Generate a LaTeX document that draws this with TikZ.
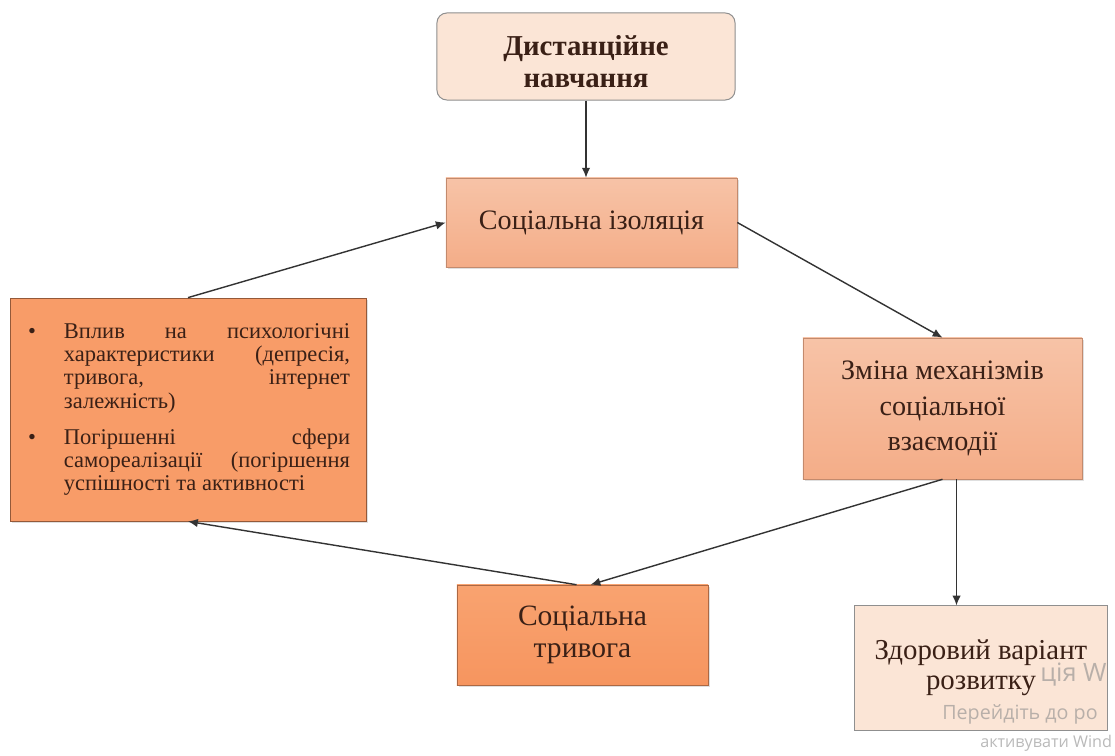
\documentclass[tikz,border=0pt]{standalone}
\usepackage{fontspec}
\setmainfont{Liberation Serif}
\newfontfamily\wmfont{Open Sans}
\usetikzlibrary{arrows.meta,positioning,calc,shadows}

\definecolor{peachFill}{HTML}{FBE5D6}
\definecolor{boxGray}{HTML}{8F8F8F}
\definecolor{salmonTop}{HTML}{F7C3A7}
\definecolor{salmonBot}{HTML}{F4AD88}
\definecolor{orangeTop}{HTML}{F9A370}
\definecolor{orangeBot}{HTML}{F6955F}
\definecolor{orangeFill}{HTML}{F89C68}
\definecolor{textBrown}{HTML}{3A2016}
\definecolor{arrowGray}{HTML}{333333}

\begin{document}
\begin{tikzpicture}[x=0.025cm, y=-0.025cm,
    every node/.style={align=center, text=textBrown, inner sep=0pt},
    bigText/.style={font=\fontsize{20}{24}\selectfont},
    lightBox/.style={draw=boxGray, fill=peachFill, line width=0.7pt},
    salmonBox/.style={draw=salmonBot!80!black, line width=0.4pt, top color=salmonTop, bottom color=salmonBot,
        drop shadow={opacity=0.25, shadow xshift=1.5pt, shadow yshift=-1.5pt}},
    orangeBox/.style={draw=orangeBot!70!black, line width=0.4pt, top color=orangeTop, bottom color=orangeBot,
        drop shadow={opacity=0.25, shadow xshift=1.5pt, shadow yshift=-1.5pt}},
    flowArrow/.style={draw=arrowGray, line width=1pt, -{Latex[length=7pt, width=6pt]}},
    wmText/.style={font=\wmfont, text=black!45, text opacity=0.6, anchor=west}
  ]
  \path[use as bounding box, fill=white] (0,0) rectangle (1115,755);

  % boxes of the cycle
  \node[lightBox, rounded corners=7pt, minimum width=7.45cm, minimum height=2.175cm] (dist) at (586,56.5) {};
  \node[font=\bfseries\fontsize{20.5}{23}\selectfont] (distText) at ($(dist.center)+(0,5)$) {Дистанційне\\навчання};
  \node[salmonBox, bigText, minimum width=7.275cm, minimum height=2.225cm] (isol) at (591.5,222.5) {\raisebox{3pt}{Соціальна ізоляція}};
  \node[salmonBox, font=\fontsize{20}{25.5}\selectfont, minimum width=6.975cm, minimum height=3.525cm] (mech) at (942.5,408.5)
        {Зміна механізмів\\соціальної\\взаємодії};
  \node[orangeBox, font=\fontsize{21}{23}\selectfont, minimum width=6.275cm, minimum height=2.5cm] (anx) at (582.5,635)
        {Соціальна\\тривога};
  \node[lightBox, font=\fontsize{20.5}{21.5}\selectfont, minimum width=6.3cm, minimum height=3.1cm] (zdor) at (981,668)
        {Здоровий варіант\\розвитку};

  % left box with the list
  \node[draw=orangeBot!60!black, line width=0.5pt, fill=orangeFill,
        drop shadow={opacity=0.25, shadow xshift=1.5pt, shadow yshift=-1.5pt},
        minimum width=8.9cm, minimum height=5.575cm] (vplyv) at (188,409.5) {%
    \begin{minipage}{8.15cm}
      \fontsize{16}{16.6}\selectfont
      \begin{list}{\textbullet}{\setlength{\leftmargin}{0.95cm}\setlength{\labelsep}{0.7cm}%
          \setlength{\labelwidth}{0.25cm}\setlength{\itemsep}{9pt}\setlength{\parsep}{0pt}%
          \setlength{\topsep}{0pt}\setlength{\rightmargin}{0.05cm}}
        \item Вплив \hfill на \hfill психологічні\newline
              характеристики \hfill (депресія,\newline
              тривога, \hfill інтернет\newline
              залежність)
        \item Погіршенні \hfill сфери\newline
              самореалізації \hfill (погіршення\newline
              успішності та активності
      \end{list}
    \end{minipage}};

  % connectors
  \draw[flowArrow] (dist.south) -- (dist.south |- isol.north);
  \draw[flowArrow] (isol.east) -- (mech.north);
  \draw[flowArrow] (mech.south) -- ($(anx.north)+(8,0)$);
  \coordinate (mechDown) at ($(mech.south)+(14,0)$);
  \draw[flowArrow] (mechDown) -- (mechDown |- zdor.north);
  \draw[flowArrow] ($(anx.north)+(-6,0)$) -- (vplyv.south);
  \draw[flowArrow] (vplyv.north) -- (isol.west);

  % screen watermark
  \begin{scope}
    \clip (0,0) rectangle (1115,755);
    \node[wmText, font=\wmfont\fontsize{18}{20}\selectfont] (wmA) at (1040,675) {ція W};
    \node[wmText, font=\wmfont\fontsize{14}{16}\selectfont] (wmB) at (942,714) {Перейдіть до ро};
    \node[wmText, font=\wmfont\fontsize{11.5}{13}\selectfont] (wmC) at (980,743) {активувати Wind};
  \end{scope}
\end{tikzpicture}
\end{document}
